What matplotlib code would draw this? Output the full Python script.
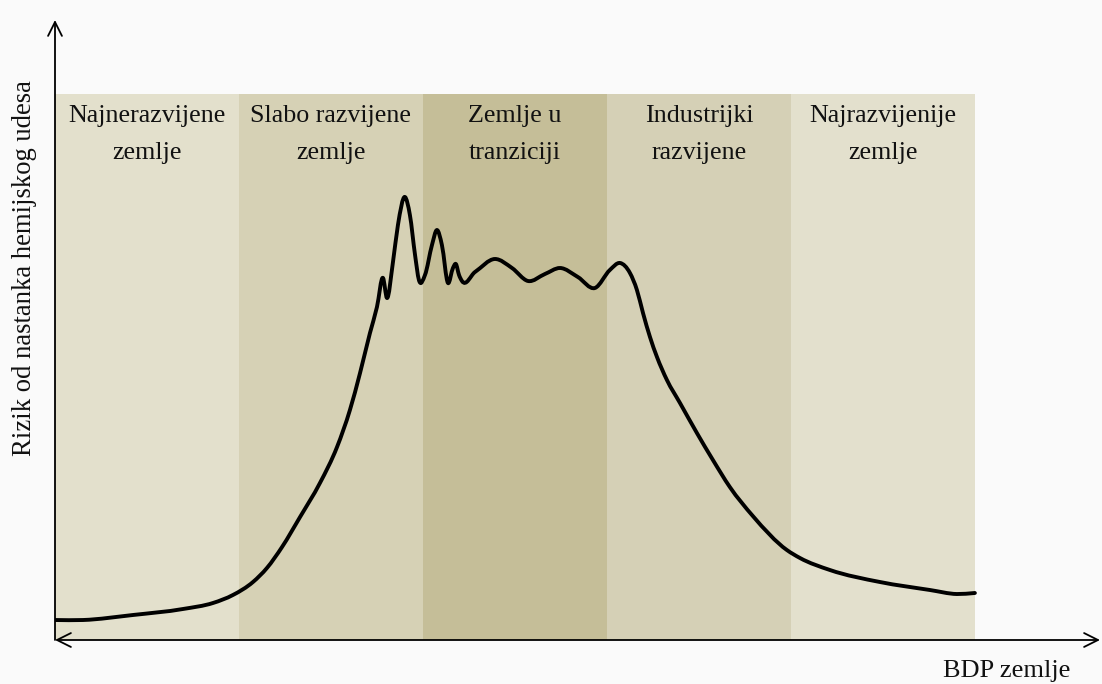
import matplotlib.pyplot as plt
import numpy as np
from matplotlib.path import Path
from matplotlib.patches import PathPatch

plt.rcParams['font.family'] = ['Liberation Serif', 'DejaVu Serif']

# Grupe zemalja po BDP-u (svaka traka je jedna grupa)
grupe = ['Najnerazvijene\nzemlje', 'Slabo razvijene\nzemlje', 'Zemlje u\ntranziciji',
         'Industrijki\nrazvijene', 'Najrazvijenije\nzemlje']
boje = ['#e3e0cc', '#d6d1b5', '#c5be98', '#d5d0b6', '#e3e0cd']
visina_trake = 100

# Kriva rizika: BDP (u jedinicama grupa) i rizik
bdp = [0.0, 0.152, 0.424, 0.696, 0.859, 0.967, 1.076, 1.152, 1.234, 1.332,
       1.440, 1.533, 1.603, 1.658, 1.712, 1.750, 1.783, 1.804, 1.837, 1.864,
       1.902, 1.929, 1.957, 1.978, 2.011, 2.049, 2.076, 2.103, 2.136, 2.163,
       2.179, 2.196, 2.212, 2.283, 2.391, 2.484, 2.571, 2.663, 2.745, 2.842,
       2.935, 3.016, 3.071, 3.125, 3.163, 3.196, 3.234, 3.272, 3.326, 3.397,
       3.489, 3.576, 3.668, 3.793, 3.978, 4.049, 4.212, 4.484, 4.755, 4.902,
       5.0]
rizik = [3.66, 3.66, 4.58, 5.68, 6.78, 8.24, 10.62, 13.19, 17.03, 22.53,
         28.75, 35.35, 42.12, 48.90, 56.23, 60.99, 66.30, 62.64, 69.23, 76.0,
         81.14, 77.84, 70.51, 65.93, 66.85, 72.34, 75.09, 72.34, 65.38, 68.13,
         68.86, 66.85, 65.75, 67.4, 69.78, 68.13, 65.75, 67.03, 68.13, 66.48,
         64.47, 67.77, 69.05, 67.22, 64.10, 59.89, 55.49, 51.83, 47.62, 43.41,
         37.91, 32.97, 28.02, 22.71, 16.48, 15.02, 12.82, 10.62, 9.16, 8.42,
         8.61]


def glatka_putanja(xs, ys):
    # Hermite kroz tacke (nagib parabole kroz tri susjedne tacke), kao kubni Bezier
    x = np.asarray(xs, float)
    y = np.asarray(ys, float)
    h = np.diff(x)
    s = np.diff(y) / h
    m = np.empty_like(y)
    m[1:-1] = (h[1:] * s[:-1] + h[:-1] * s[1:]) / (h[:-1] + h[1:])
    m[0] = s[0]
    m[-1] = s[-1]
    verts = [(x[0], y[0])]
    codes = [Path.MOVETO]
    for i in range(len(x) - 1):
        verts += [(x[i] + h[i] / 3, y[i] + m[i] * h[i] / 3),
                  (x[i + 1] - h[i] / 3, y[i + 1] - m[i + 1] * h[i] / 3),
                  (x[i + 1], y[i + 1])]
        codes += [Path.CURVE4] * 3
    return Path(verts, codes)


fig = plt.figure(figsize=(11.02, 6.84), dpi=100, facecolor='#fafafa')
ax = fig.add_axes([55 / 1102, 44 / 684, 1045 / 1102, 620 / 684])
ax.set_facecolor('none')
ax.set_xlim(0, 5.68)
ax.set_ylim(0, 113.55)
ax.axis('off')

# Trake za grupe zemalja
centri = np.arange(len(grupe)) + 0.5
ax.bar(centri, visina_trake, width=1.0, color=boje, linewidth=0, zorder=1)
for c, g in zip(centri, grupe):
    ax.text(c, 92.6, g, ha='center', va='center', fontsize=18.7,
            linespacing=1.85, color='#111111', zorder=3)

ax.add_patch(PathPatch(glatka_putanja(bdp, rizik), facecolor='none',
                       edgecolor='black', lw=2.8, joinstyle='round',
                       capstyle='round', zorder=2))

# Ose sa strelicama
ax.annotate('', xy=(0, 113.55), xytext=(0, 0), xycoords='data',
            arrowprops=dict(arrowstyle='->', lw=1.3, color='black',
                            mutation_scale=25, shrinkA=0, shrinkB=0),
            annotation_clip=False, zorder=4)
ax.annotate('', xy=(5.68, 0), xytext=(0, 0), xycoords='data',
            arrowprops=dict(arrowstyle='<->', lw=1.3, color='black',
                            mutation_scale=25, shrinkA=0, shrinkB=0),
            annotation_clip=False, zorder=4)

fig.text(25 / 1102, 1 - 268 / 684, 'Rizik od nastanka hemijskog udesa',
         rotation=90, ha='center', va='center', fontsize=19.2, color='#111111')
fig.text(1007 / 1102, 1 - 671 / 684, 'BDP zemlje', ha='center', va='center',
         fontsize=19, color='#111111')

fig.savefig('out.png', dpi=100, facecolor=fig.get_facecolor())
